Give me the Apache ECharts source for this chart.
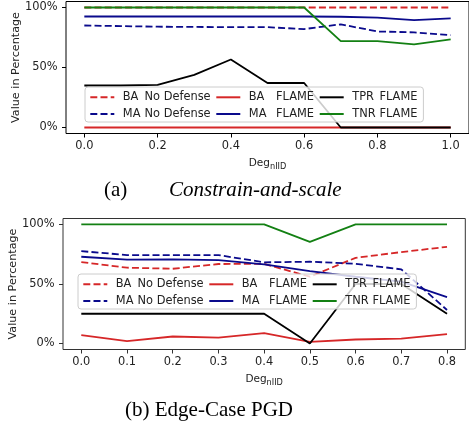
<!DOCTYPE html>
<html>
<head>
<meta charset="utf-8">
<script src="https://cdn.jsdelivr.net/npm/echarts@6/dist/echarts.min.js"></script>
<style>
html,body{margin:0;padding:0;background:#fff;}
#c{width:469px;height:421px;}
</style>
</head>
<body>
<div id="c"></div>
<script>
// ---- data ----
const topX = [0.0, 0.1, 0.2, 0.3, 0.4, 0.5, 0.6, 0.7, 0.8, 0.9, 1.0];
const topBANoDef = [100, 100, 100, 100, 100, 100, 100, 100, 100, 100, 100];
const topMANoDef = [85, 84.5, 84, 83.8, 83.6, 83.6, 82, 86, 80, 79.3, 77];
const topBAFlame = [0, 0, 0, 0, 0, 0, 0, 0, 0, 0, 0];
const topMAFlame = [92.5, 92.5, 92.5, 92.5, 92.5, 92.5, 92.5, 92.3, 91.5, 89.5, 91];
const topTPR = [35, 35, 35.5, 43.8, 56.7, 37.1, 37.1, 0, 0, 0, 0];
const topTNR = [100, 100, 100, 100, 100, 100, 100, 72, 72, 69.3, 73.4];
const topXTicks = [0, 0.2, 0.4, 0.6, 0.8, 1.0];

const botX = [0.0, 0.1, 0.2, 0.3, 0.4, 0.5, 0.6, 0.7, 0.8];
const botBANoDef = [68.4, 63.7, 62.8, 66.8, 66.9, 56.1, 72, 76.8, 81.2];
const botMANoDef = [77.6, 74.3, 74.3, 74.3, 68.2, 68.7, 67, 62.3, 28.2];
const botBAFlame = [7, 2, 5.9, 5, 8.7, 1.4, 3.4, 4.2, 7.9];
const botMAFlame = [72.9, 70.4, 70.6, 70, 66.5, 60.9, 56.1, 52, 38.9];
const botTPR = [25, 25, 25, 25, 25, 0, 50, 50, 25];
const botTNR = [100, 100, 100, 100, 100, 85.4, 100, 100, 100];
const botXTicks = [0, 0.1, 0.2, 0.3, 0.4, 0.5, 0.6, 0.7, 0.8];

const yTicks = [0, 50, 100];
const seriesMetric = ['BA', 'MA', 'BA', 'MA', 'TPR', 'TNR'];
const seriesDefense = ['No Defense', 'No Defense', 'FLAME', 'FLAME', 'FLAME', 'FLAME'];
const legendOrder = [0, 2, 4, 1, 3, 5];
const yAxisName = 'Value in Percentage';
const captionA1 = '(a)';
const captionA2 = 'Constrain-and-scale';
const captionB = '(b) Edge-Case PGD';

// ---- styles ----
const FONT = 'DejaVu Sans';
const RED = '#d62728', BLUE = '#0a0a8c', BLACK = '#000000', GREEN = '#138013';
const styles = [
  {color: RED, type: [7, 3.2]},
  {color: BLUE, type: [7, 3.2]},
  {color: RED, type: 'solid'},
  {color: BLUE, type: 'solid'},
  {color: BLACK, type: 'solid'},
  {color: GREEN, type: 'solid'}
];
const names = seriesMetric.map((m, i) => m + '|' + seriesDefense[i]);

function mkSeries(xs, arrays, idx) {
  return arrays.map((arr, i) => ({
    type: 'line',
    name: names[i],
    xAxisIndex: idx, yAxisIndex: idx,
    data: xs.map((x, k) => [x, arr[k]]),
    symbol: 'none',
    showSymbol: false,
    animation: false,
    lineStyle: {color: styles[i].color, width: 1.8, type: styles[i].type},
    itemStyle: {color: styles[i].color}
  }));
}

const legendRich = {
  sp: {width: 3.5, fontFamily: FONT, fontSize: 11.4},
  m1: {width: 21.3, align: 'left', fontFamily: FONT, fontSize: 11.4, color: '#222'},
  d1: {width: 66.5, align: 'right', fontFamily: FONT, fontSize: 11.4, color: '#222'},
  m2: {width: 27, align: 'left', fontFamily: FONT, fontSize: 11.4, color: '#222'},
  d2: {width: 38.2, align: 'right', fontFamily: FONT, fontSize: 11.4, color: '#222'}
};
function mkLegend(left, top) {
  return {
    show: true,
    left: left, top: top, orient: 'horizontal', width: 345,
    padding: [4.3, 6, 2, 4.3],
    itemGap: 4.7, itemWidth: 24, itemHeight: 12,
    backgroundColor: 'rgba(255,255,255,0.8)',
    borderColor: '#cccccc', borderWidth: 1, borderRadius: 3,
    selectedMode: false,
    itemStyle: {color: 'transparent', borderColor: 'transparent', borderWidth: 0, opacity: 0},
    data: legendOrder.map(i => names[i]),
    formatter: function (n) {
      const p = n.split('|');
      const c = p[1] === 'No Defense' ? '1' : '2';
      return '{sp|}{m' + c + '|' + p[0] + '}{d' + c + '|' + p[1] + '}';
    },
    textStyle: {fontFamily: FONT, fontSize: 11.4, lineHeight: 12, color: '#222', rich: legendRich}
  };
}

function mkXAxis(idx, min, max, ticks, col) {
  return {
    type: 'value', gridIndex: idx, min: min, max: max,
    name: '{a|Deg}{b|nIID}', nameLocation: 'middle', nameGap: 23, nameMoveOverlap: false,
    nameTextStyle: {color: '#222', rich: {
      a: {fontFamily: FONT, fontSize: 10.5, color: '#222'},
      b: {fontFamily: FONT, fontSize: 8.2, color: '#222', padding: [6, 0, 0, 0]}
    }},
    axisLine: {show: false, onZero: false},
    axisTick: {show: true, length: 4, inside: false, customValues: ticks, lineStyle: {color: col, width: 1}},
    axisLabel: {customValues: ticks, margin: 7, color: '#222', fontFamily: FONT, fontSize: 11.4,
      formatter: v => Number(v).toFixed(1)},
    splitLine: {show: false}
  };
}
function mkYAxis(idx, col) {
  return {
    type: 'value', gridIndex: idx, min: -5, max: 105,
    name: yAxisName, nameLocation: 'middle', nameGap: 44, nameRotate: 90, nameMoveOverlap: false,
    nameTextStyle: {fontFamily: FONT, fontSize: 11.2, color: '#222'},
    axisLine: {show: false, onZero: false},
    axisTick: {show: true, length: 4, inside: false, customValues: yTicks, lineStyle: {color: col, width: 1}},
    axisLabel: {customValues: yTicks, margin: 8.5, color: '#222', fontFamily: FONT, fontSize: 11.4,
      formatter: v => Math.round(v) + '%'},
    splitLine: {show: false}
  };
}

const chart = echarts.init(document.getElementById('c'), null, {renderer: 'canvas'});
chart.setOption({
  animation: false,
  backgroundColor: '#ffffff',
  grid: [
    {left: 66, top: 1.5, width: 407, height: 132, show: true, borderColor: '#000', borderWidth: 1, backgroundColor: 'transparent'},
    {left: 59.3, top: 218.5, width: 406, height: 131, show: true, borderColor: '#333', borderWidth: 1, backgroundColor: 'transparent'}
  ],
  xAxis: [mkXAxis(0, -0.05, 1.05, topXTicks, '#000'), mkXAxis(1, -0.04, 0.84, botXTicks, '#333')],
  yAxis: [mkYAxis(0, '#000'), mkYAxis(1, '#333')],
  legend: [mkLegend(85, 87), mkLegend(78, 274)],
  series: mkSeries(topX, [topBANoDef, topMANoDef, topBAFlame, topMAFlame, topTPR, topTNR], 0)
    .concat(mkSeries(botX, [botBANoDef, botMANoDef, botBAFlame, botMAFlame, botTPR, botTNR], 1)),
  graphic: [
    {type: 'text', x: 104, y: 190, style: {text: captionA1, fontFamily: 'Liberation Serif', fontSize: 21, fill: '#000', align: 'left', verticalAlign: 'middle'}},
    {type: 'text', x: 169, y: 190, style: {text: captionA2, fontFamily: 'Liberation Serif', fontStyle: 'italic', fontSize: 21, fill: '#000', align: 'left', verticalAlign: 'middle'}},
    {type: 'text', x: 125, y: 410, style: {text: captionB, fontFamily: 'Liberation Serif', fontSize: 21, fill: '#000', align: 'left', verticalAlign: 'middle'}}
  ]
});
</script>
</body>
</html>
